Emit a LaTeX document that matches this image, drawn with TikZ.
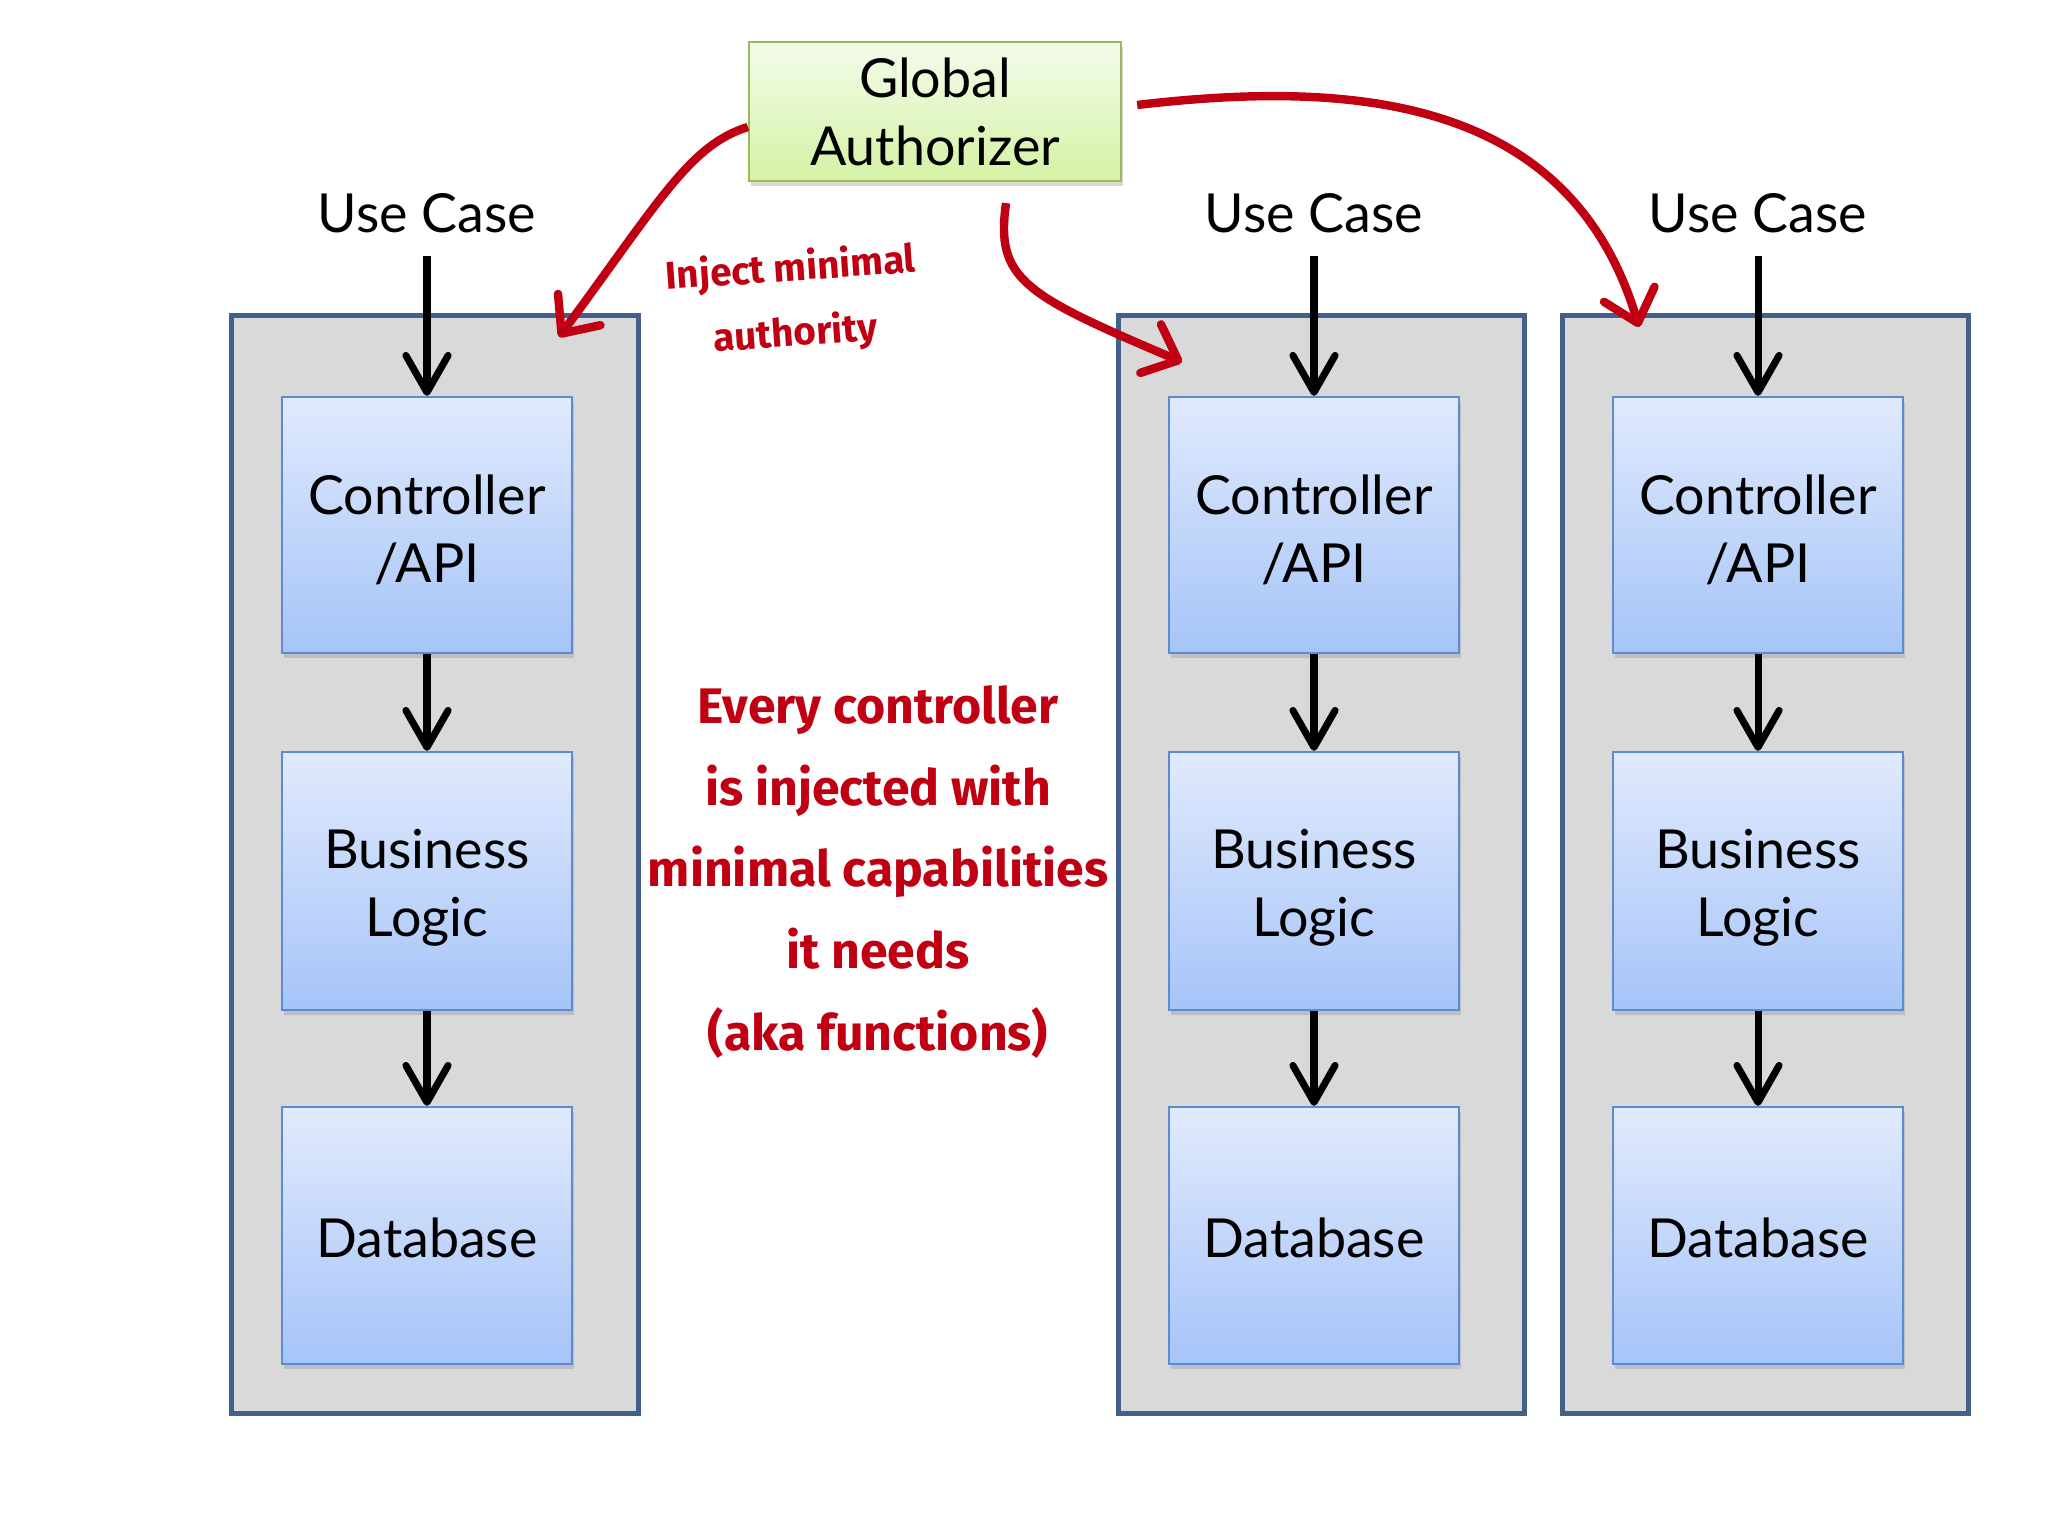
\documentclass[tikz,border=0pt]{standalone}
\usepackage{fontspec}
\setmainfont{Lato}
\newfontfamily\handfont{Fira Sans}
\usetikzlibrary{arrows.meta,shadows,calc}
\definecolor{contfill}{HTML}{D9D9D9}
\definecolor{contborder}{HTML}{41618C}
\definecolor{layertop}{HTML}{E0EAFD}
\definecolor{layerbot}{HTML}{A6C4F8}
\definecolor{layerborder}{HTML}{5B8BD3}
\definecolor{gatop}{HTML}{F4FCEA}
\definecolor{gabot}{HTML}{D4F2A4}
\definecolor{gaborder}{HTML}{9BBB59}
\definecolor{inkred}{HTML}{C00012}
\tikzset{
  container/.style={draw=contborder, line width=1.4pt, fill=contfill, minimum width=4.06cm, minimum height=10.97cm, inner sep=0pt},
  layer/.style={draw=layerborder, line width=0.6pt, top color=layertop, bottom color=layerbot, minimum width=2.9cm, inner sep=0pt,
    drop shadow={opacity=0.3, shadow xshift=0.02cm, shadow yshift=-0.05cm}},
  layertext/.style={align=center, inner sep=0pt, font=\fontsize{15.3}{19.3}\selectfont},
  galayer/.style={draw=gaborder, line width=0.6pt, top color=gatop, bottom color=gabot, minimum width=3.72cm, minimum height=1.39cm, align=center, inner sep=0pt,
    font=\fontsize{15.3}{19.3}\selectfont, drop shadow={opacity=0.3, shadow xshift=0.02cm, shadow yshift=-0.05cm}},
  uclabel/.style={font=\fontsize{15.3}{19.3}\selectfont, inner xsep=0pt, inner ysep=0.23cm},
  flow/.style={-{Straight Barb[length=10.5pt,width=12pt,round]}, line width=2pt},
  inject/.style={-{Straight Barb[length=8.5pt,width=15pt,round]}, line width=2.4pt, draw=inkred},
  handnote/.style={text=inkred, align=center, inner sep=0pt}
}
\begin{document}
\begin{tikzpicture}[x=0.01cm,y=-0.01cm]
\useasboundingbox[fill=white] (0,0) rectangle (2048,1536);
\foreach \c/\x/\cx in {L/427/435, M/1314/1321.5, R/1758/1765.5}{
  \node[container] (box\c) at (\cx,864.5) {};
  \node[layer, minimum height=2.56cm, label={[layertext, yshift=-0.05cm]center:Controller\\/API}] (ctrl\c) at (\x,525) {};
  \node[layer, minimum height=2.58cm, label={[layertext, yshift=-0.07cm]center:Business\\Logic}] (biz\c) at (\x,881) {};
  \node[layer, minimum height=2.57cm, label={[layertext, yshift=-0.02cm]center:Database}] (db\c) at (\x,1235.5) {};
  \node[uclabel, anchor=base] (uc\c) at (\x,232) {Use Case};
  \draw[flow] (uc\c.south) -- (ctrl\c.north);
  \draw[flow] (ctrl\c.south) -- (biz\c.north);
  \draw[flow] (biz\c.south) -- (db\c.north);
}
\node[galayer] (ga) at (935,111.5) {Global\\Authorizer};
\coordinate (t1) at (559,337);
\coordinate (t2) at (1182,362);
\coordinate (t3) at (1639,327);
\draw[inject] ([yshift=-0.155cm]ga.west) .. controls (690,145) and (660,200) .. (t1);
\draw[inject] ([xshift=0.71cm,yshift=-0.21cm]ga.south) .. controls (995,280) and (1025,295) .. (t2);
\draw[inject] ([xshift=0.15cm,yshift=0.065cm]ga.east) .. controls (1350,80) and (1570,95) .. (t3);
\node[handnote, rotate=4, font=\handfont\bfseries\fontsize{11}{18.5}\selectfont] (note1) at (793,302) {Inject minimal\\authority};
\node[handnote, font=\handfont\bfseries\fontsize{14.2}{23.3}\selectfont] (note2) at (878,872) {Every controller\\is injected with\\minimal capabilities\\it needs\\(aka functions)};
\end{tikzpicture}
\end{document}
